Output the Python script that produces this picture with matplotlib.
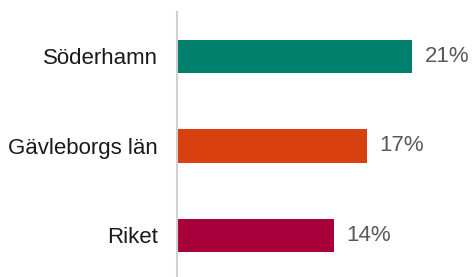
import matplotlib
matplotlib.use("Agg")
import matplotlib.pyplot as plt

categories = ["Söderhamn", "Gävleborgs län", "Riket"]
values = [21, 17, 14]
colors = ["#007f6d", "#d9400f", "#a8003a"]

plt.rcParams["font.family"] = ["Liberation Sans", "DejaVu Sans"]

fig = plt.figure(figsize=(4.74, 2.77), dpi=100)
ax = fig.add_axes([177 / 474, 0, 297 / 474, 265 / 277])

ypos = range(len(categories))
ax.barh(ypos, values, height=0.37, color=colors, left=0)
ax.set_xlim(0, 297 / 11.2)
ax.set_ylim(2.464, -0.497)

for y, v in zip(ypos, values):
    ax.text(v + 1.1, y, f"{v}%", va="center", ha="left", fontsize=16, color="#595959")

ax.set_yticks(list(ypos))
ax.set_yticklabels(categories, fontsize=16, color="#1a1a1a")
ax.tick_params(axis="y", length=0, pad=14)
ax.set_xticks([])
for s in ["top", "right", "bottom"]:
    ax.spines[s].set_visible(False)
ax.spines["left"].set_color("#d0d0d0")
ax.spines["left"].set_linewidth(1.5)

fig.savefig("out.png", dpi=100)
